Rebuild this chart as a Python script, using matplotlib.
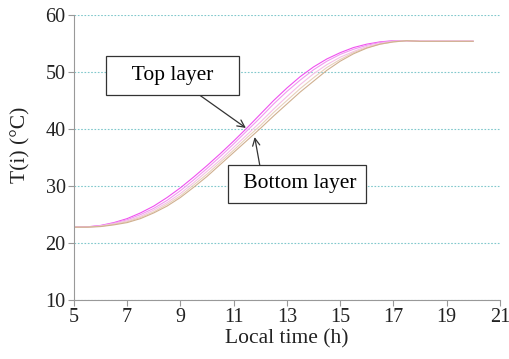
import numpy as np
import matplotlib
matplotlib.use("Agg")
import matplotlib.pyplot as plt

plt.rcParams['font.family'] = ['Liberation Serif', 'DejaVu Serif']

# heure locale (h)
t = [5, 5.5, 6, 6.5, 7, 7.5, 8, 8.5, 9, 9.5, 10, 10.5, 11, 11.5, 12, 12.5,
     13, 13.5, 14, 14.5, 15, 15.5, 16, 16.5, 17, 17.5, 18, 18.5, 19, 19.5, 20]

# température de chaque couche, du haut vers le bas
layer1 = [22.8, 22.85, 23.1, 23.6, 24.3, 25.3, 26.5, 28.0, 29.7, 31.6, 33.6, 35.7, 37.9, 40.2, 42.6, 45.0,
          47.2, 49.2, 50.9, 52.3, 53.4, 54.3, 54.9, 55.3, 55.5, 55.5, 55.4, 55.4, 55.4, 55.4, 55.4]
layer2 = [22.8, 22.85, 23.05, 23.5, 24.1, 25.0, 26.1, 27.5, 29.2, 31.1, 33.1, 35.2, 37.4, 39.7, 42.0, 44.4,
          46.6, 48.6, 50.4, 51.9, 53.1, 54.0, 54.7, 55.2, 55.5, 55.5, 55.4, 55.4, 55.4, 55.4, 55.4]
layer3 = [22.8, 22.8, 23.0, 23.4, 23.9, 24.7, 25.8, 27.1, 28.7, 30.6, 32.6, 34.6, 36.8, 39.0, 41.2, 43.5,
          45.7, 47.8, 49.7, 51.3, 52.6, 53.6, 54.5, 55.0, 55.4, 55.5, 55.4, 55.4, 55.4, 55.4, 55.4]
layer4 = [22.8, 22.8, 22.95, 23.3, 23.75, 24.5, 25.5, 26.8, 28.3, 30.2, 32.1, 34.2, 36.3, 38.5, 40.6, 42.9,
          45.0, 47.1, 49.0, 50.8, 52.2, 53.4, 54.3, 54.9, 55.3, 55.5, 55.4, 55.4, 55.4, 55.4, 55.4]
layer5 = [22.8, 22.8, 22.9, 23.2, 23.6, 24.3, 25.3, 26.5, 28.0, 29.8, 31.7, 33.8, 35.9, 38.0, 40.1, 42.3,
          44.4, 46.5, 48.4, 50.3, 51.9, 53.2, 54.2, 54.9, 55.3, 55.5, 55.4, 55.4, 55.4, 55.4, 55.4]

couches = [layer1, layer2, layer3, layer4, layer5]
couleurs = ['#F050F0', '#F09AF0', '#F4C0E6', '#E8D0BC', '#D0B090']

fig = plt.figure(figsize=(5.1, 3.59), dpi=100)
ax = fig.add_axes([0.145, 0.164, 0.835, 0.794])

ax.grid(axis='y', color='#80C8CC', linestyle=(0, (1.5, 1.5)), linewidth=0.8)
ax.set_axisbelow(True)

for T, c in zip(couches, couleurs):
    ax.plot(t, T, color=c, lw=0.8)

ax.set_xlim(5, 21)
ax.set_ylim(10, 60)
ax.set_xticks(np.arange(5, 22, 2))
ax.set_yticks(np.arange(10, 61, 10))

for s in ['top', 'right']:
    ax.spines[s].set_visible(False)
for s in ['left', 'bottom']:
    ax.spines[s].set_color('#999999')
ax.tick_params(colors='#999999', labelcolor='#222222', labelsize=14.5, length=4, direction='out', pad=2)

ax.set_xlabel("Local time (h)", fontsize=15.5, labelpad=1, color='#222222')
ax.set_ylabel("T(i) (°C)", fontsize=15.5, color='#222222')
ax.yaxis.set_label_coords(-0.103, 0.544)

# étiquettes
box = dict(boxstyle='square,pad=0.45', fc='white', ec='#333333', lw=0.9)
ax.text(8.71, 49.4, "   Top layer   ", fontsize=15.5, ha='center', va='center', bbox=box, zorder=5)
ax.text(13.39, 30.4, " Bottom layer", fontsize=15.5, ha='center', va='center', bbox=box, zorder=5)

fleche = dict(arrowstyle='->', color='#333333', lw=0.9, mutation_scale=13, shrinkA=0, shrinkB=0)
ax.annotate("", xy=(11.46, 40.2), xytext=(9.68, 46.1), arrowprops=fleche)
ax.annotate("", xy=(11.79, 38.6), xytext=(11.98, 33.7), arrowprops=fleche)

fig.savefig("out.png", dpi=100)
